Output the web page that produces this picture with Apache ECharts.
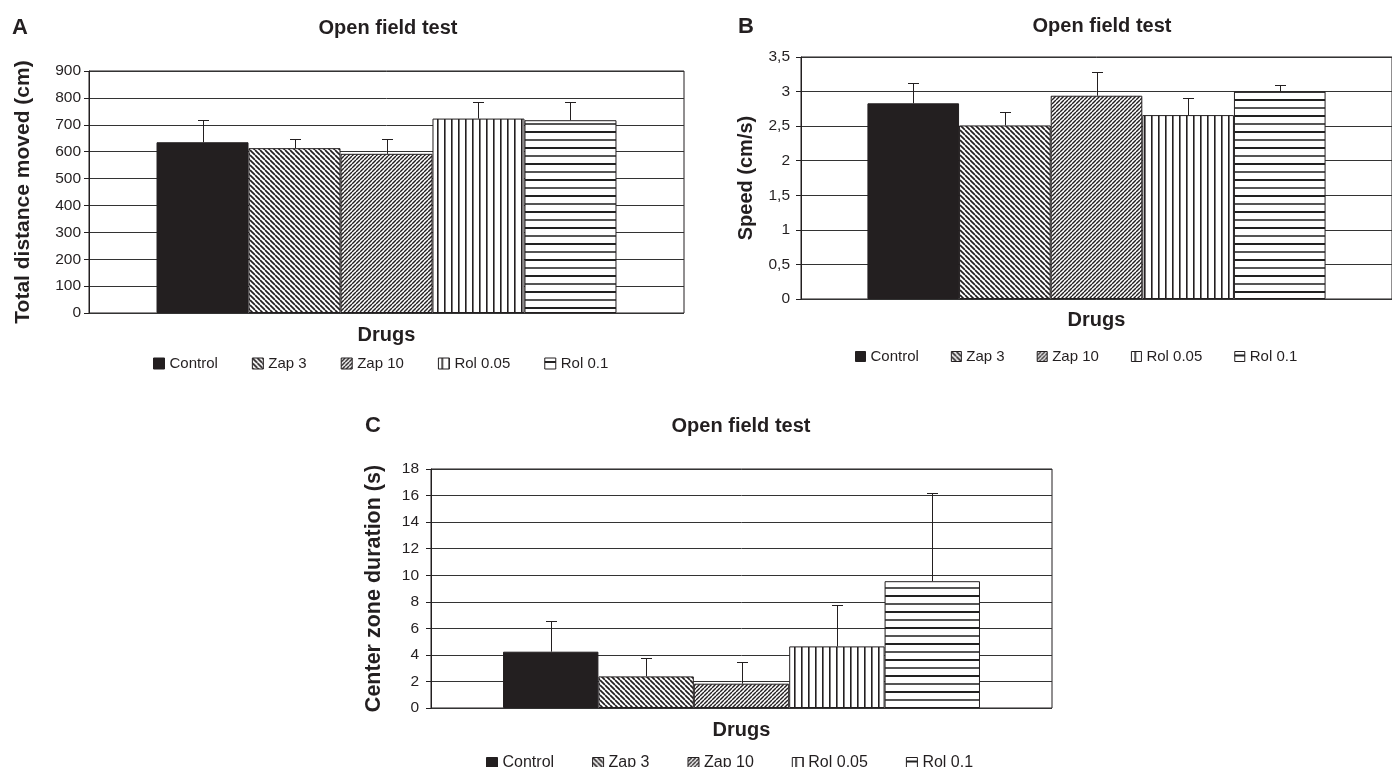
<!DOCTYPE html>
<html><head><meta charset="utf-8">
<script src="https://cdn.jsdelivr.net/npm/echarts@6.0.0/dist/echarts.min.js"></script>
<style>html,body{margin:0;padding:0;background:#fff}#chart{width:1392px;height:767px}</style>
</head><body><div id="chart"></div>
<script>
// ---- data ----
const categories = ['Control', 'Zap 3', 'Zap 10', 'Rol 0.05', 'Rol 0.1'];
const distanceMean = [635, 613, 592, 723, 717];
const distanceUpper = [716, 646, 646, 784, 784];
const speedMean = [2.83, 2.51, 2.94, 2.66, 3.00];
const speedUpper = [3.12, 2.70, 3.29, 2.91, 3.10];
const centerMean = [4.24, 2.38, 1.83, 4.64, 9.55];
const centerUpper = [6.52, 3.76, 3.46, 7.77, 16.22];
const panelLetters = ['A', 'B', 'C'];
const panelTitle = 'Open field test';
const yNames = ['Total distance moved (cm)', 'Speed (cm/s)', 'Center zone duration (s)'];
const xName = 'Drugs';

const INK = '#231f20';
const FONT = '"Liberation Sans", Arial, sans-serif';

function makePattern(kind) {
  if (kind === 'solid') return INK;
  const c = document.createElement('canvas');
  let w = 5, h = 5;
  if (kind === 'back') { w = h = 5; }
  if (kind === 'fwd') { w = h = 4; }
  if (kind === 'vert') { w = 7; h = 4; }
  if (kind === 'horiz') { w = 4; h = 16; }
  c.width = w; c.height = h;
  const ctx = c.getContext('2d');
  ctx.fillStyle = '#fff'; ctx.fillRect(0, 0, w, h);
  ctx.strokeStyle = INK; ctx.fillStyle = INK;
  if (kind === 'back' || kind === 'fwd') {
    ctx.lineWidth = kind === 'back' ? 1.7 : 1.4;
    for (let k = -1; k <= 1; k++) {
      ctx.beginPath();
      if (kind === 'back') { ctx.moveTo(k * w, 0); ctx.lineTo(k * w + w, h); }
      else { ctx.moveTo(k * w, h); ctx.lineTo(k * w + w, 0); }
      ctx.stroke();
    }
  } else if (kind === 'vert') {
    ctx.fillRect(3, 0, 1.6, h);
  } else if (kind === 'horiz') {
    ctx.fillStyle = '#222'; ctx.fillRect(0, 3, w, 2);
    ctx.fillStyle = '#555'; ctx.fillRect(0, 11, w, 2);
  }
  return { image: c, repeat: 'repeat' };
}
const patterns = ['solid', 'back', 'fwd', 'vert', 'horiz'].map(makePattern);

// ---- layout (pixels) ----
const panels = [
  { mean: distanceMean, upper: distanceUpper, grid: { left: 89, top: 71, width: 595, height: 242 },
    xr: [-1.234, 5.234], y: { min: 0, max: 900, interval: 100 }, yGap: 55, yFont: 21, labelMargin: 8, xGap: 12,
    letter: { x: 12, y: 17 }, title: { x: 388, y: 18 },
    legend: { left: 153, top: 356, gap: 34, icon: 11, font: 15 } },
  { mean: speedMean, upper: speedUpper, grid: { left: 801, top: 57, width: 596, height: 242 },
    xr: [-1.225, 5.225], y: { min: 0, max: 3.5, interval: 0.5 }, yGap: 45, yFont: 20, labelMargin: 11, xGap: 11,
    letter: { x: 738, y: 16 }, title: { x: 1102, y: 16 },
    legend: { left: 855, top: 349, gap: 32, icon: 10, font: 15 } },
  { mean: centerMean, upper: centerUpper, grid: { left: 431, top: 469, width: 621, height: 239 },
    xr: [-1.255, 5.255], y: { min: 0, max: 18, interval: 2 }, yGap: 46, yFont: 21.5, labelMargin: 12, xGap: 12,
    letter: { x: 365, y: 415 }, title: { x: 741, y: 416 },
    legend: { left: 486, top: 755, gap: 38, icon: 11, font: 16 } }
];

const option = {
  animation: false,
  backgroundColor: '#fff',
  textStyle: { fontFamily: FONT, color: INK },
  title: [], grid: [], xAxis: [], yAxis: [], legend: [], series: []
};

panels.forEach((p, pi) => {
  option.title.push({ text: panelLetters[pi], left: p.letter.x, top: p.letter.y, padding: 0,
    textStyle: { fontFamily: FONT, fontSize: 22, fontWeight: 'bold', color: INK } });
  option.title.push({ text: panelTitle, left: p.title.x, top: p.title.y, padding: 0, textAlign: 'center',
    textStyle: { fontFamily: FONT, fontSize: 20, fontWeight: 'bold', color: INK } });
  option.grid.push(Object.assign({ show: true, borderColor: INK, borderWidth: 1, backgroundColor: 'transparent' }, p.grid));
  option.xAxis.push({
    type: 'value', gridIndex: pi, min: p.xr[0], max: p.xr[1],
    name: xName, nameLocation: 'middle', nameGap: p.xGap,
    nameTextStyle: { fontFamily: FONT, fontSize: 20, fontWeight: 'bold', color: INK, verticalAlign: 'top' },
    axisLine: { show: false, onZero: false }, axisTick: { show: false }, axisLabel: { show: false }, splitLine: { show: false }
  });
  option.yAxis.push({
    type: 'value', gridIndex: pi, min: p.y.min, max: p.y.max, interval: p.y.interval,
    name: yNames[pi], nameLocation: 'middle', nameGap: p.yGap, nameRotate: 90,
    nameTextStyle: { fontFamily: FONT, fontSize: p.yFont, fontWeight: 'bold', color: INK, verticalAlign: 'bottom' },
    axisLine: { show: true, onZero: false, lineStyle: { color: INK, width: 1 } },
    axisTick: { show: true, length: 5, lineStyle: { color: INK } },
    axisLabel: { fontFamily: FONT, fontSize: 15.5, color: INK, margin: p.labelMargin,
      formatter: v => String(v).replace('.', ',') },
    splitLine: { show: true, lineStyle: { color: '#333', width: 1 } }
  });
  option.legend.push({
    data: categories, left: p.legend.left, top: p.legend.top, padding: 0, orient: 'horizontal',
    itemGap: p.legend.gap, itemWidth: p.legend.icon, itemHeight: p.legend.icon, icon: 'rect',
    selectedMode: false, textStyle: { fontFamily: FONT, fontSize: p.legend.font, color: INK },
    itemStyle: { borderColor: INK, borderWidth: 1 }
  });
  categories.forEach((name, i) => {
    option.series.push({
      type: 'bar', name, xAxisIndex: pi, yAxisIndex: pi,
      data: [[i, p.mean[i]]], barWidth: '100%', barGap: '-100%',
      itemStyle: { color: patterns[i], borderColor: INK, borderWidth: 1 },
      emphasis: { disabled: true }, silent: true, z: 2
    });
  });
  option.series.push({
    type: 'custom', name: 'err' + pi, xAxisIndex: pi, yAxisIndex: pi, z: 5, silent: true,
    data: categories.map((c, i) => [i, p.mean[i], p.upper[i]]),
    encode: { x: 0, y: [1, 2] },
    renderItem: (params, api) => {
      const x = api.value(0);
      const a = api.coord([x, api.value(1)]);
      const b = api.coord([x, api.value(2)]);
      const cx = Math.round(a[0]) + 0.5;
      const by = Math.round(b[1]) + 0.5;
      const st = { stroke: INK, lineWidth: 1 };
      return { type: 'group', children: [
        { type: 'line', shape: { x1: cx, y1: a[1], x2: cx, y2: by }, style: st },
        { type: 'line', shape: { x1: cx - 5.5, y1: by, x2: cx + 5.5, y2: by }, style: st }
      ] };
    }
  });
});

const chart = echarts.init(document.getElementById('chart'), null, { renderer: 'canvas' });
chart.setOption(option);
</script>
</body></html>
